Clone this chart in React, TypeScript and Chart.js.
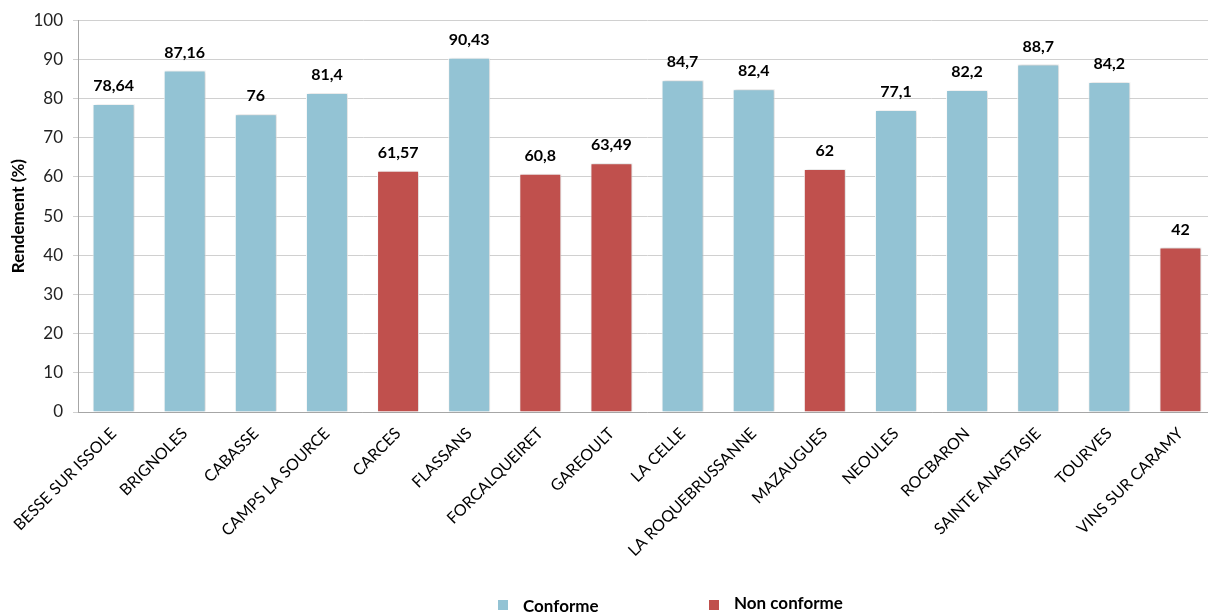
import React, { useEffect, useRef } from "react";
import { Chart, registerables } from "chart.js";

Chart.register(...registerables);

const categories = [
  "BESSE SUR ISSOLE",
  "BRIGNOLES",
  "CABASSE",
  "CAMPS LA SOURCE",
  "CARCES",
  "FLASSANS",
  "FORCALQUEIRET",
  "GAREOULT",
  "LA CELLE",
  "LA ROQUEBRUSSANNE",
  "MAZAUGUES",
  "NEOULES",
  "ROCBARON",
  "SAINTE ANASTASIE",
  "TOURVES",
  "VINS SUR CARAMY",
];

const conforme = [78.64, 87.16, 76, 81.4, null, 90.43, null, null, 84.7, 82.4, null, 77.1, 82.2, 88.7, 84.2, null];
const nonConforme = [null, null, null, null, 61.57, null, 60.8, 63.49, null, null, 62, null, null, null, null, 42];

const yTicks = [0, 10, 20, 30, 40, 50, 60, 70, 80, 90, 100];

const BLUE = "#93C3D4";
const RED = "#C0504D";
const FONT = "Lato, 'Open Sans', sans-serif";

const fmt = (v: number) => String(v).replace(".", ",");

const valueLabels = {
  id: "valueLabels",
  afterDatasetsDraw(chart: any) {
    const ctx = chart.ctx;
    ctx.save();
    ctx.font = `bold 16px ${FONT}`;
    ctx.fillStyle = "#000";
    ctx.textAlign = "center";
    ctx.textBaseline = "bottom";
    chart.data.datasets.forEach((ds: any, di: number) => {
      const meta = chart.getDatasetMeta(di);
      meta.data.forEach((el: any, i: number) => {
        const v = ds.data[i];
        if (v === null || v === undefined) return;
        ctx.fillText(fmt(v), el.x, el.y - 10);
      });
    });
    ctx.restore();
  },
};

const shadowPlugin = {
  id: "barShadow",
  beforeDatasetsDraw(chart: any) {
    const ctx = chart.ctx;
    ctx.save();
    ctx.shadowColor = "rgba(0,0,0,0.22)";
    ctx.shadowBlur = 3;
    ctx.shadowOffsetX = 1;
    ctx.shadowOffsetY = 0;
  },
  afterDatasetsDraw(chart: any) {
    chart.ctx.restore();
  },
};

const customLegend = {
  id: "customLegend",
  afterDraw(chart: any) {
    const ctx = chart.ctx;
    ctx.save();
    ctx.font = `bold 17px ${FONT}`;
    ctx.textBaseline = "middle";
    ctx.textAlign = "left";
    ctx.fillStyle = BLUE;
    ctx.fillRect(498, 600, 10, 10);
    ctx.fillStyle = "#000";
    ctx.fillText("Conforme", 523, 607);
    ctx.fillStyle = RED;
    ctx.fillRect(709, 600, 10, 10);
    ctx.fillStyle = "#000";
    ctx.fillText("Non conforme", 734, 604);
    ctx.restore();
  },
};

export default function App() {
  const ref = useRef<HTMLCanvasElement | null>(null);

  useEffect(() => {
    document.body.style.margin = "0";
    if (!ref.current) return;
    const chart = new Chart(ref.current, {
      type: "bar",
      data: {
        labels: categories,
        datasets: [
          {
            label: "Conforme",
            data: conforme as any,
            backgroundColor: BLUE,
            borderColor: "#ffffff",
            borderWidth: 1,
            grouped: false,
            categoryPercentage: 1,
            barPercentage: 0.59,
          } as any,
          {
            label: "Non conforme",
            data: nonConforme as any,
            backgroundColor: RED,
            borderColor: "#ffffff",
            borderWidth: 1,
            grouped: false,
            categoryPercentage: 1,
            barPercentage: 0.59,
          } as any,
        ],
      },
      options: {
        animation: false,
        responsive: true,
        maintainAspectRatio: false,
        layout: { padding: { top: 19, right: 0, bottom: 37, left: 0 } },
        plugins: {
          legend: { display: false },
          tooltip: { enabled: false },
        },
        scales: {
          x: {
            grid: { display: false },
            border: { display: true, color: "#A6A6A6", width: 1 },
            ticks: {
              autoSkip: false,
              maxRotation: 45,
              minRotation: 45,
              color: "#000",
              font: { family: FONT, size: 16 },
              padding: 4,
            },
            afterFit(scale: any) {
              scale.height = 165;
            },
          },
          y: {
            min: 0,
            max: 100,
            afterBuildTicks(scale: any) {
              scale.ticks = yTicks.map((v) => ({ value: v }));
            },
            grid: { color: "#D0D0D0", tickLength: 5 },
            border: { display: true, color: "#A6A6A6", width: 1 },
            ticks: {
              color: "#222",
              font: { family: FONT, size: 17 },
              padding: 10,
            },
            title: {
              display: true,
              text: "Rendement (%)",
              color: "#000",
              font: { family: FONT, size: 17, weight: "bold" },
              padding: { top: 8, bottom: 0 },
            },
            afterFit(scale: any) {
              scale.width = 78;
            },
          },
        },
      },
      plugins: [shadowPlugin, valueLabels, customLegend],
    });
    return () => chart.destroy();
  }, []);

  return (
    <div style={{ width: 1208, height: 614, overflow: "hidden" }}>
      <div style={{ width: 1216, height: 614, position: "relative" }}>
        <canvas ref={ref} />
      </div>
    </div>
  );
}
